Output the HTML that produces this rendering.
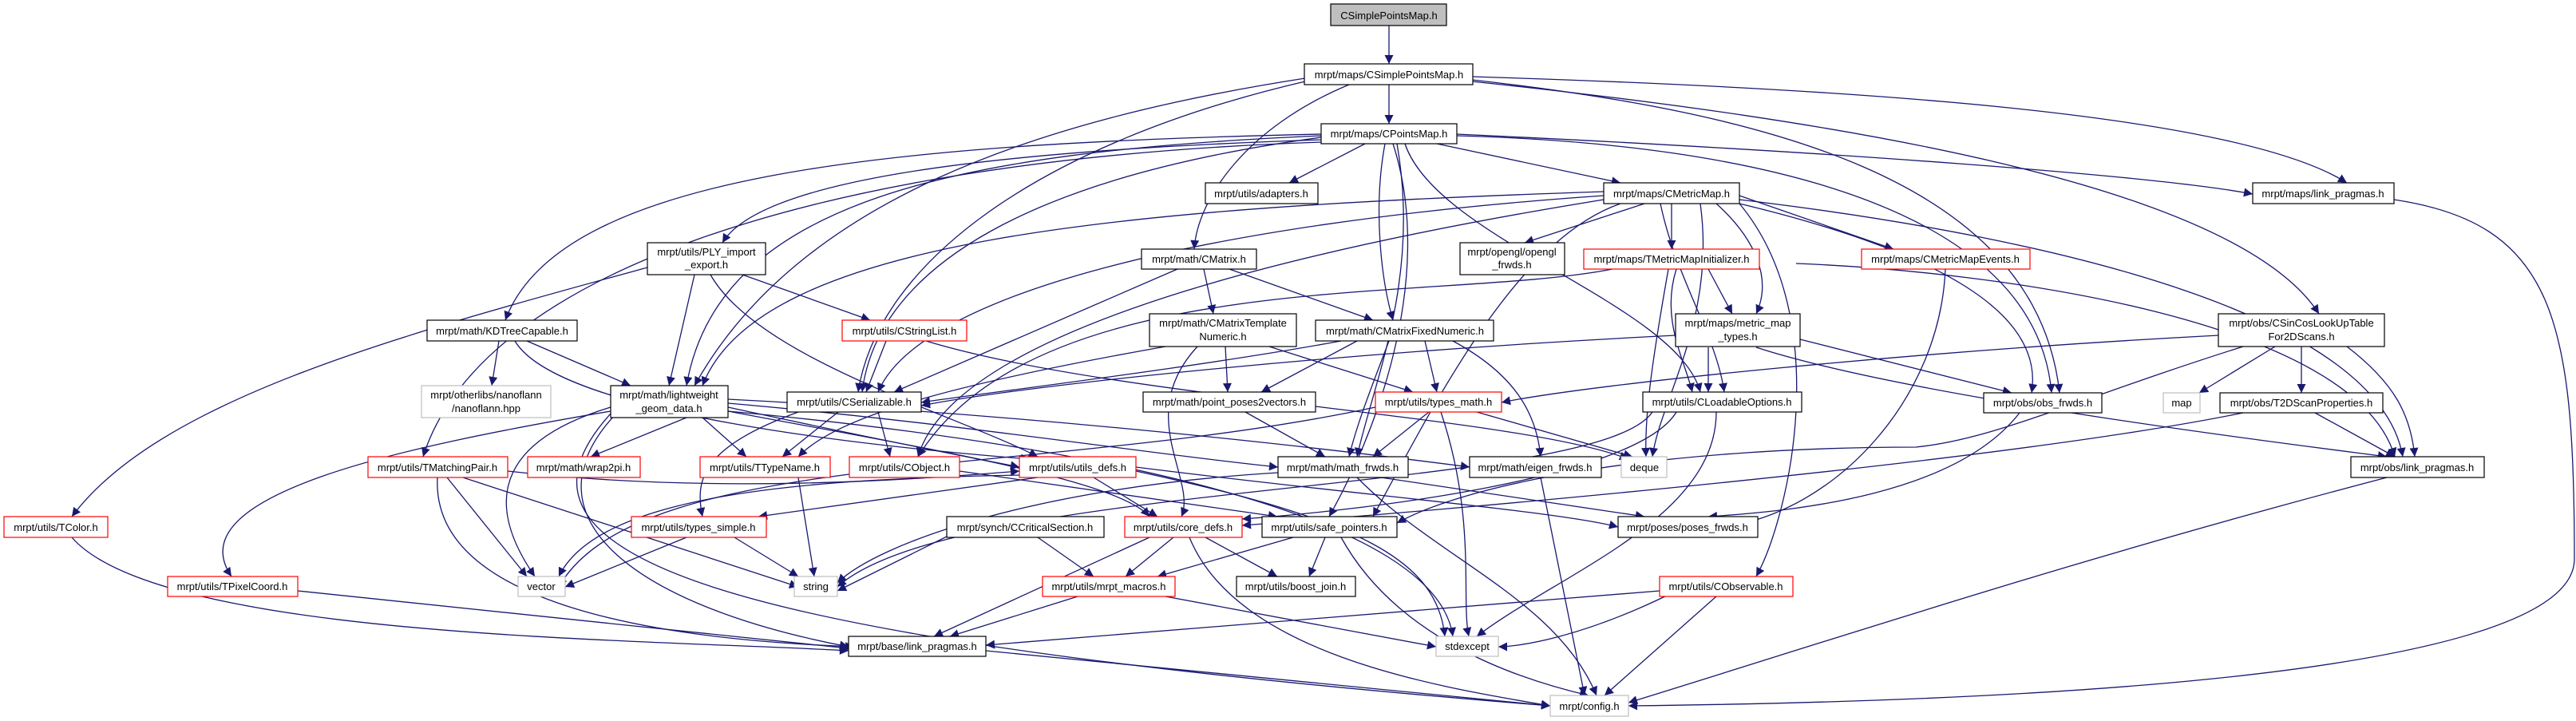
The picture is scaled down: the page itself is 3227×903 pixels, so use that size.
<!DOCTYPE html>
<html><head><meta charset="utf-8"><style>
html,body{margin:0;padding:0;background:#fff;}
svg{display:block;}
text{font-family:"Liberation Sans",sans-serif;font-size:13px;fill:#000;text-anchor:middle;}
.e{fill:none;stroke:#191970;stroke-width:1.3;}
.n{fill:#fff;stroke:#000;stroke-width:1.2;}
.r{fill:#fff;stroke:#ff0000;stroke-width:1.2;}
.g{fill:#fff;stroke:#bfbfbf;stroke-width:1.2;}
.sh{fill:none;stroke:#555;stroke-width:1.5;}
</style></head><body>
<svg width="3227" height="903" viewBox="0 0 3227 903" xmlns="http://www.w3.org/2000/svg">
<defs>
<marker id="a" viewBox="0 0 10 10" refX="10" refY="5" markerWidth="14" markerHeight="11" markerUnits="userSpaceOnUse" orient="auto">
<path d="M0,0 L10,5 L0,10 z" fill="#191970"/>
</marker>
</defs>
<g class="e" marker-end="url(#a)">
<path d="M1740,32 L1740,80"/>
<path d="M1740,106 L1740,155"/>
<path d="M1690,106 C1560,160 1500,250 1496,312"/>
<path d="M1635,98 C1300,150 1000,250 870,483"/>
<path d="M1635,102 C1300,180 1100,330 1075,491"/>
<path d="M1844,96 C2300,110 2800,140 2940,229"/>
<path d="M1844,102 C2300,150 2800,230 2905,393"/>
<path d="M1844,100 C2200,140 2550,220 2580,492"/>
<path d="M1710,180 L1615,229"/>
<path d="M1800,180 L2030,229"/>
<path d="M1655,175 C1200,190 950,230 905,304"/>
<path d="M1655,168 C1100,180 700,220 633,401"/>
<path d="M1655,172 C1300,220 1100,330 1080,491"/>
<path d="M1655,170 C1200,190 900,250 860,483"/>
<path d="M1735,180 C1720,260 1730,350 1745,401"/>
<path d="M1760,180 C1800,300 2100,380 2130,491"/>
<path d="M1745,180 C1800,350 1720,550 1665,647"/>
<path d="M1825,170 C2200,180 2550,260 2570,492"/>
<path d="M1825,168 C2300,190 2700,220 2822,243"/>
<path d="M1750,180 C1780,350 1720,480 1700,572"/>
<path d="M1655,178 C1000,200 600,350 530,572"/>
<path d="M2060,255 L1910,304"/>
<path d="M2094,255 L2094,312"/>
<path d="M2179,245 L2372,312"/>
<path d="M2150,255 C2200,300 2220,350 2200,393"/>
<path d="M2009,245 C1500,280 1150,370 1100,491"/>
<path d="M2009,240 C1400,260 950,300 880,483"/>
<path d="M2080,255 C2100,350 2150,420 2160,491"/>
<path d="M2130,255 C2150,400 2080,500 2070,572"/>
<path d="M2179,255 C2450,320 2560,400 2545,492"/>
<path d="M2179,250 C2600,300 2980,400 3010,572"/>
<path d="M2179,255 C2300,400 2240,650 2200,722"/>
<path d="M2030,255 C1900,300 1800,500 1720,647"/>
<path d="M2009,250 C1700,300 1200,400 1150,572"/>
<path d="M2999,250 C3200,280 3225,400 3225,700 C3225,860 2400,880 2040,884"/>
<path d="M930,344 L1090,401"/>
<path d="M870,344 L838,483"/>
<path d="M811,335 C500,420 200,500 90,647"/>
<path d="M890,344 C950,450 1200,520 1300,572"/>
<path d="M625,427 L616,483"/>
<path d="M660,427 L790,483"/>
<path d="M645,427 C700,520 1100,560 1290,575"/>
<path d="M1110,427 L1085,491"/>
<path d="M1160,427 C1400,500 1900,520 2040,575"/>
<path d="M1508,337 L1520,393"/>
<path d="M1540,337 L1720,401"/>
<path d="M1475,337 L1120,491"/>
<path d="M1535,434 L1538,491"/>
<path d="M1590,434 L1770,491"/>
<path d="M1460,434 C1200,480 1050,520 1000,572"/>
<path d="M1500,434 C1420,520 1500,600 1480,647"/>
<path d="M1700,427 L1580,491"/>
<path d="M1785,427 L1800,491"/>
<path d="M1740,427 C1720,480 1700,530 1690,572"/>
<path d="M1820,427 C1900,470 1925,520 1930,572"/>
<path d="M1680,427 C1500,460 1250,490 1154,504"/>
<path d="M2099,420 C1700,440 1300,480 1154,508"/>
<path d="M2140,435 L2140,491"/>
<path d="M2255,425 L2520,492"/>
<path d="M2200,435 C2400,500 2900,560 2990,572"/>
<path d="M2140,337 L2170,393"/>
<path d="M2100,337 C2080,400 2110,450 2120,491"/>
<path d="M2090,337 C2070,450 2060,520 2062,572"/>
<path d="M2250,330 C2500,340 2950,400 3000,572"/>
<path d="M2020,337 C1800,380 1300,330 1150,572"/>
<path d="M2437,337 C2430,500 2300,640 2160,660"/>
<path d="M2779,420 C2400,440 2000,480 1881,504"/>
<path d="M2850,434 L2755,492"/>
<path d="M2883,434 L2883,492"/>
<path d="M2940,434 C3000,480 3020,520 3025,572"/>
<path d="M2810,434 C2600,500 2500,550 2400,560 C2100,560 1850,600 1750,655"/>
<path d="M2900,517 L3000,572"/>
<path d="M2810,517 C2500,580 1800,640 1556,658"/>
<path d="M860,523 L740,572"/>
<path d="M880,523 L935,572"/>
<path d="M765,510 C600,560 620,650 670,722"/>
<path d="M765,515 C500,560 220,620 290,722"/>
<path d="M770,520 C650,650 800,760 1063,810"/>
<path d="M912,510 C1050,540 1200,570 1277,585"/>
<path d="M912,515 C1150,560 1400,600 1440,647"/>
<path d="M912,505 C1200,530 1450,570 1601,585"/>
<path d="M912,500 C1300,520 1650,560 1841,585"/>
<path d="M912,515 C1400,560 1800,650 1820,797"/>
<path d="M765,518 C600,700 900,800 1942,884"/>
<path d="M1100,516 L1115,572"/>
<path d="M1050,516 L980,572"/>
<path d="M1000,516 C880,560 870,600 880,647"/>
<path d="M1560,516 L1660,572"/>
<path d="M1790,516 L1720,572"/>
<path d="M1850,516 L2045,572"/>
<path d="M1805,516 C1850,650 1830,750 1840,797"/>
<path d="M1723,510 C1300,600 800,560 700,735"/>
<path d="M2100,516 C2050,600 1700,640 1556,650"/>
<path d="M2150,516 C2150,650 1950,720 1850,797"/>
<path d="M2070,516 C2000,620 1200,600 1049,735"/>
<path d="M2530,517 C2450,620 2250,640 2140,647"/>
<path d="M560,598 L660,722"/>
<path d="M580,598 L1000,735"/>
<path d="M548,598 C540,750 800,800 1070,810"/>
<path d="M636,590 C900,620 1150,600 1277,590"/>
<path d="M1000,598 L1020,722"/>
<path d="M1202,590 L1600,647"/>
<path d="M1370,598 L1450,647"/>
<path d="M1300,598 L950,647"/>
<path d="M1423,590 C1700,650 1800,700 1810,797"/>
<path d="M1423,585 C1700,620 1950,640 2027,660"/>
<path d="M1277,595 C1000,600 750,620 700,722"/>
<path d="M1730,598 L2060,647"/>
<path d="M1700,598 C1800,700 1950,750 2000,871"/>
<path d="M1601,592 C1300,610 1100,680 1049,730"/>
<path d="M1930,598 L1985,871"/>
<path d="M860,673 L708,735"/>
<path d="M920,673 L1000,722"/>
<path d="M90,673 C200,800 800,800 1063,815"/>
<path d="M373,740 L1063,812"/>
<path d="M1300,673 L1370,722"/>
<path d="M1190,670 L1049,740"/>
<path d="M1470,673 L1410,722"/>
<path d="M1510,673 L1600,722"/>
<path d="M1440,673 L1170,797"/>
<path d="M1490,673 C1550,820 1800,860 1942,884"/>
<path d="M1620,673 L1450,722"/>
<path d="M1660,673 L1640,722"/>
<path d="M1680,673 C1750,800 1900,850 1990,871"/>
<path d="M1350,747 L1190,797"/>
<path d="M1460,747 L1799,810"/>
<path d="M1235,815 L1942,884"/>
<path d="M2079,740 L1235,808"/>
<path d="M2150,747 L2010,871"/>
<path d="M2100,740 C1980,800 1900,810 1877,810"/>
<path d="M2990,598 C2600,700 2300,800 2040,880"/>
</g>
<g>
<rect x="1667" y="5" width="145" height="27" fill="#bfbfbf" stroke="#000" stroke-width="1.2"/><text x="1740" y="24">CSimplePointsMap.h</text>
<rect class="n" x="1634" y="80" width="211" height="26"/><text x="1740" y="98">mrpt/maps/CSimplePointsMap.h</text>
<rect class="n" x="1655" y="155" width="170" height="25"/><text x="1740" y="172">mrpt/maps/CPointsMap.h</text>
<rect class="n" x="1510" y="229" width="141" height="26"/><text x="1580" y="247">mrpt/utils/adapters.h</text>
<rect class="n" x="2009" y="229" width="170" height="26"/><text x="2094" y="247">mrpt/maps/CMetricMap.h</text>
<rect class="n" x="2822" y="229" width="177" height="26"/><text x="2910" y="247">mrpt/maps/link_pragmas.h</text>
<rect class="n" x="811" y="304" width="148" height="40"/><text x="885" y="320">mrpt/utils/PLY_import</text><text x="885" y="336">_export.h</text>
<rect class="n" x="1430" y="312" width="144" height="25"/><text x="1502" y="329">mrpt/math/CMatrix.h</text>
<rect class="n" x="1829" y="304" width="131" height="40"/><text x="1894" y="320">mrpt/opengl/opengl</text><text x="1894" y="336">_frwds.h</text>
<rect class="r" x="1984" y="312" width="220" height="25"/><text x="2094" y="329">mrpt/maps/TMetricMapInitializer.h</text>
<rect class="r" x="2332" y="312" width="211" height="25"/><text x="2437" y="329">mrpt/maps/CMetricMapEvents.h</text>
<rect class="n" x="535" y="401" width="188" height="26"/><text x="629" y="419">mrpt/math/KDTreeCapable.h</text>
<rect class="r" x="1055" y="401" width="156" height="26"/><text x="1133" y="419">mrpt/utils/CStringList.h</text>
<rect class="n" x="1440" y="393" width="184" height="41"/><text x="1532" y="409">mrpt/math/CMatrixTemplate</text><text x="1532" y="426">Numeric.h</text>
<rect class="n" x="1648" y="401" width="223" height="26"/><text x="1760" y="419">mrpt/math/CMatrixFixedNumeric.h</text>
<rect class="n" x="2099" y="393" width="156" height="41"/><text x="2177" y="409">mrpt/maps/metric_map</text><text x="2177" y="426">_types.h</text>
<rect class="n" x="2779" y="393" width="208" height="41"/><text x="2883" y="409">mrpt/obs/CSinCosLookUpTable</text><text x="2883" y="426">For2DScans.h</text>
<rect class="g" x="528" y="483" width="162" height="40"/><text x="609" y="499" fill="#000">mrpt/otherlibs/nanoflann</text><text x="609" y="516">/nanoflann.hpp</text>
<rect class="n" x="765" y="483" width="147" height="40"/><text x="838" y="499">mrpt/math/lightweight</text><text x="838" y="516">_geom_data.h</text>
<rect class="n" x="986" y="491" width="168" height="25"/><text x="1070" y="508">mrpt/utils/CSerializable.h</text>
<rect class="n" x="1432" y="491" width="216" height="25"/><text x="1540" y="508">mrpt/math/point_poses2vectors.h</text>
<rect class="r" x="1723" y="491" width="158" height="25"/><text x="1802" y="508">mrpt/utils/types_math.h</text>
<rect class="n" x="2058" y="491" width="199" height="25"/><text x="2157" y="508">mrpt/utils/CLoadableOptions.h</text>
<rect class="n" x="2485" y="492" width="148" height="25"/><text x="2559" y="509">mrpt/obs/obs_frwds.h</text>
<rect class="g" x="2710" y="492" width="46" height="25"/><text x="2733" y="509">map</text>
<rect class="n" x="2781" y="492" width="204" height="25"/><text x="2883" y="509">mrpt/obs/T2DScanProperties.h</text>
<rect class="r" x="461" y="572" width="175" height="26"/><text x="548" y="590">mrpt/utils/TMatchingPair.h</text>
<rect class="r" x="661" y="572" width="141" height="26"/><text x="731" y="590">mrpt/math/wrap2pi.h</text>
<rect class="r" x="877" y="572" width="163" height="26"/><text x="958" y="590">mrpt/utils/TTypeName.h</text>
<rect class="r" x="1064" y="572" width="138" height="26"/><text x="1133" y="590">mrpt/utils/CObject.h</text>
<rect class="r" x="1277" y="572" width="146" height="26"/><text x="1350" y="590">mrpt/utils/utils_defs.h</text>
<rect class="n" x="1601" y="572" width="163" height="26"/><text x="1682" y="590">mrpt/math/math_frwds.h</text>
<rect class="n" x="1841" y="572" width="165" height="26"/><text x="1923" y="590">mrpt/math/eigen_frwds.h</text>
<rect class="g" x="2031" y="572" width="57" height="26"/><text x="2060" y="590">deque</text>
<rect class="n" x="2945" y="572" width="167" height="26"/><text x="3028" y="590">mrpt/obs/link_pragmas.h</text>
<rect class="r" x="5" y="647" width="130" height="26"/><text x="70" y="665">mrpt/utils/TColor.h</text>
<rect class="r" x="791" y="647" width="169" height="26"/><text x="875" y="665">mrpt/utils/types_simple.h</text>
<rect class="n" x="1186" y="647" width="197" height="26"/><text x="1284" y="665">mrpt/synch/CCriticalSection.h</text>
<rect class="r" x="1409" y="647" width="147" height="26"/><text x="1482" y="665">mrpt/utils/core_defs.h</text>
<rect class="n" x="1581" y="647" width="169" height="26"/><text x="1665" y="665">mrpt/utils/safe_pointers.h</text>
<rect class="n" x="2027" y="647" width="175" height="26"/><text x="2114" y="665">mrpt/poses/poses_frwds.h</text>
<rect class="r" x="210" y="722" width="163" height="25"/><text x="291" y="739">mrpt/utils/TPixelCoord.h</text>
<rect class="g" x="649" y="722" width="59" height="25"/><text x="678" y="739">vector</text>
<rect class="g" x="995" y="722" width="54" height="25"/><text x="1022" y="739">string</text>
<rect class="r" x="1306" y="722" width="166" height="25"/><text x="1389" y="739">mrpt/utils/mrpt_macros.h</text>
<rect class="n" x="1549" y="722" width="149" height="25"/><text x="1623" y="739">mrpt/utils/boost_join.h</text>
<rect class="r" x="2079" y="722" width="167" height="25"/><text x="2162" y="739">mrpt/utils/CObservable.h</text>
<rect class="n" x="1063" y="797" width="172" height="25"/><text x="1149" y="814">mrpt/base/link_pragmas.h</text>
<rect class="g" x="1799" y="797" width="78" height="25"/><text x="1838" y="814">stdexcept</text>
<rect class="g" x="1942" y="871" width="98" height="26"/><text x="1991" y="889">mrpt/config.h</text>
</g>
</svg>
</body></html>
